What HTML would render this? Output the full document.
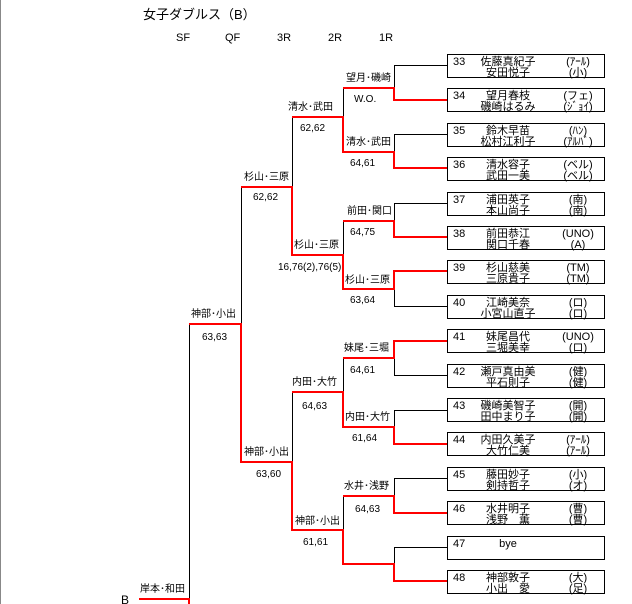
<!DOCTYPE html>
<html><head><meta charset="utf-8"><style>
html,body{margin:0;padding:0;background:#fff;}
svg{display:block;font-family:"Liberation Sans","Noto Sans CJK JP",sans-serif;}
.t{font-size:11px;fill:#000}
.l{font-size:10px;fill:#000}
.s{font-size:10px;fill:#000}
.k{stroke:#000;stroke-width:1;fill:none}
.r{stroke:#f00;stroke-width:2;fill:none}
.b{stroke:#000;stroke-width:1;fill:#fff}
</style></head><body>
<svg width="632" height="604" viewBox="0 0 632 604" shape-rendering="crispEdges">
<line x1="0.5" y1="0" x2="0.5" y2="604" stroke="#888" stroke-width="1"/>
<text x="143" y="19" style="font-size:13px">女子ダブルス（B）</text>
<g style="font-size:11px"><text x="176" y="41">SF</text><text x="225" y="41">QF</text><text x="277" y="41">3R</text><text x="328" y="41">2R</text><text x="379" y="41">1R</text></g>

<g>
<rect class="b" x="447.5" y="54.5" width="157" height="23"/>
<rect class="b" x="447.5" y="88.5" width="157" height="23"/>
<rect class="b" x="447.5" y="123.5" width="157" height="23"/>
<rect class="b" x="447.5" y="157.5" width="157" height="23"/>
<rect class="b" x="447.5" y="192.5" width="157" height="23"/>
<rect class="b" x="447.5" y="226.5" width="157" height="23"/>
<rect class="b" x="447.5" y="260.5" width="157" height="23"/>
<rect class="b" x="447.5" y="295.5" width="157" height="23"/>
<rect class="b" x="447.5" y="329.5" width="157" height="23"/>
<rect class="b" x="447.5" y="364.5" width="157" height="23"/>
<rect class="b" x="447.5" y="398.5" width="157" height="23"/>
<rect class="b" x="447.5" y="432.5" width="157" height="23"/>
<rect class="b" x="447.5" y="467.5" width="157" height="23"/>
<rect class="b" x="447.5" y="501.5" width="157" height="23"/>
<rect class="b" x="447.5" y="536.5" width="157" height="23"/>
<rect class="b" x="447.5" y="570.5" width="157" height="23"/>
</g>
<g class="t">
<text x="453" y="65">33</text><text x="508" y="65" text-anchor="middle">佐藤真紀子</text><text x="508" y="76" text-anchor="middle">安田悦子</text><text x="578" y="65" text-anchor="middle">(ｱｰﾙ)</text><text x="578" y="76" text-anchor="middle">(小)</text>
<text x="453" y="99">34</text><text x="508" y="99" text-anchor="middle">望月春枝</text><text x="508" y="110" text-anchor="middle">磯崎はるみ</text><text x="578" y="99" text-anchor="middle">(フェ)</text><text x="578" y="110" text-anchor="middle">(ｼﾞｮｲ)</text>
<text x="453" y="134">35</text><text x="508" y="134" text-anchor="middle">鈴木早苗</text><text x="508" y="145" text-anchor="middle">松村江利子</text><text x="578" y="134" text-anchor="middle">(ﾊﾝ)</text><text x="578" y="145" text-anchor="middle">(ｱﾙﾊﾞ)</text>
<text x="453" y="168">36</text><text x="508" y="168" text-anchor="middle">清水容子</text><text x="508" y="179" text-anchor="middle">武田一美</text><text x="578" y="168" text-anchor="middle">(ベル)</text><text x="578" y="179" text-anchor="middle">(ベル)</text>
<text x="453" y="203">37</text><text x="508" y="203" text-anchor="middle">浦田英子</text><text x="508" y="214" text-anchor="middle">本山尚子</text><text x="578" y="203" text-anchor="middle">(南)</text><text x="578" y="214" text-anchor="middle">(南)</text>
<text x="453" y="237">38</text><text x="508" y="237" text-anchor="middle">前田恭江</text><text x="508" y="248" text-anchor="middle">関口千春</text><text x="578" y="237" text-anchor="middle">(UNO)</text><text x="578" y="248" text-anchor="middle">(A)</text>
<text x="453" y="271">39</text><text x="508" y="271" text-anchor="middle">杉山慈美</text><text x="508" y="282" text-anchor="middle">三原貴子</text><text x="578" y="271" text-anchor="middle">(TM)</text><text x="578" y="282" text-anchor="middle">(TM)</text>
<text x="453" y="306">40</text><text x="508" y="306" text-anchor="middle">江崎美奈</text><text x="508" y="317" text-anchor="middle">小宮山直子</text><text x="578" y="306" text-anchor="middle">(ロ)</text><text x="578" y="317" text-anchor="middle">(ロ)</text>
<text x="453" y="340">41</text><text x="508" y="340" text-anchor="middle">妹尾昌代</text><text x="508" y="351" text-anchor="middle">三堀美幸</text><text x="578" y="340" text-anchor="middle">(UNO)</text><text x="578" y="351" text-anchor="middle">(ロ)</text>
<text x="453" y="375">42</text><text x="508" y="375" text-anchor="middle">瀬戸真由美</text><text x="508" y="386" text-anchor="middle">平石則子</text><text x="578" y="375" text-anchor="middle">(健)</text><text x="578" y="386" text-anchor="middle">(健)</text>
<text x="453" y="409">43</text><text x="508" y="409" text-anchor="middle">磯崎美智子</text><text x="508" y="420" text-anchor="middle">田中まり子</text><text x="578" y="409" text-anchor="middle">(開)</text><text x="578" y="420" text-anchor="middle">(開)</text>
<text x="453" y="443">44</text><text x="508" y="443" text-anchor="middle">内田久美子</text><text x="508" y="454" text-anchor="middle">大竹仁美</text><text x="578" y="443" text-anchor="middle">(ｱｰﾙ)</text><text x="578" y="454" text-anchor="middle">(ｱｰﾙ)</text>
<text x="453" y="478">45</text><text x="508" y="478" text-anchor="middle">藤田妙子</text><text x="508" y="489" text-anchor="middle">剣持哲子</text><text x="578" y="478" text-anchor="middle">(小)</text><text x="578" y="489" text-anchor="middle">(オ)</text>
<text x="453" y="512">46</text><text x="508" y="512" text-anchor="middle">水井明子</text><text x="508" y="523" text-anchor="middle">浅野　薫</text><text x="578" y="512" text-anchor="middle">(曹)</text><text x="578" y="523" text-anchor="middle">(曹)</text>
<text x="453" y="547">47</text><text x="508" y="547" text-anchor="middle">bye</text>
<text x="453" y="581">48</text><text x="508" y="581" text-anchor="middle">神部敦子</text><text x="508" y="592" text-anchor="middle">小出　愛</text><text x="578" y="581" text-anchor="middle">(大)</text><text x="578" y="592" text-anchor="middle">(足)</text>
</g>

<g class="k">
<path d="M447 65.5H394.5V88"/>
<path d="M447 134.5H394.5V152"/>
<path d="M447 203.5H394.5V221"/>
<path d="M447 306.5H394.5V289"/>
<path d="M447 375.5H394.5V358"/>
<path d="M447 410.5H394.5V427"/>
<path d="M447 478.5H394.5V496"/>
<path d="M447 547.5H394.5V564"/>
<path d="M343.5 88V117"/>
<path d="M343.5 221V255"/>
<path d="M343.5 358V392"/>
<path d="M343.5 496V530"/>
<path d="M292.5 117V187"/>
<path d="M292.5 392V462"/>
<path d="M241.5 187V324"/>
<path d="M189.5 324V604"/>
</g>
<g class="r">
<path d="M447 100H394V88H343"/>
<path d="M447 168H394V152H343V117H292"/>
<path d="M447 237H394V221H343"/>
<path d="M447 271H394V289H343V255H292V187H241"/>
<path d="M447 341H394V358H343"/>
<path d="M447 444H394V427H343V392H292"/>
<path d="M447 513H394V496H343"/>
<path d="M447 581H394V564H343V530H292V462H241V324H189"/>
<path d="M139 599H189V604"/>
</g>

<g class="l">
<text x="346" y="81">望月･磯崎</text><text x="354" y="102" class="s">W.O.</text>
<text x="346" y="145">清水･武田</text><text x="350" y="166" class="s">64,61</text>
<text x="347" y="214">前田･関口</text><text x="350" y="235" class="s">64,75</text>
<text x="345" y="283">杉山･三原</text><text x="350" y="303" class="s">63,64</text>
<text x="344" y="351">妹尾･三堀</text><text x="350" y="373" class="s">64,61</text>
<text x="345" y="420">内田･大竹</text><text x="352" y="441" class="s">61,64</text>
<text x="344" y="489">水井･浅野</text><text x="355" y="512" class="s">64,63</text>
<text x="288" y="110">清水･武田</text><text x="300" y="131" class="s">62,62</text>
<text x="294" y="248">杉山･三原</text><text x="278" y="270" class="s">16,76(2),76(5)</text>
<text x="292" y="385">内田･大竹</text><text x="302" y="409" class="s">64,63</text>
<text x="295" y="524">神部･小出</text><text x="303" y="545" class="s">61,61</text>
<text x="244" y="180">杉山･三原</text><text x="253" y="200" class="s">62,62</text>
<text x="244" y="455">神部･小出</text><text x="256" y="477" class="s">63,60</text>
<text x="191" y="317">神部･小出</text><text x="202" y="340" class="s">63,63</text>
<text x="140" y="592">岸本･和田</text>
<text x="121" y="604" style="font-size:12px">B</text>
</g>
</svg>
</body></html>
